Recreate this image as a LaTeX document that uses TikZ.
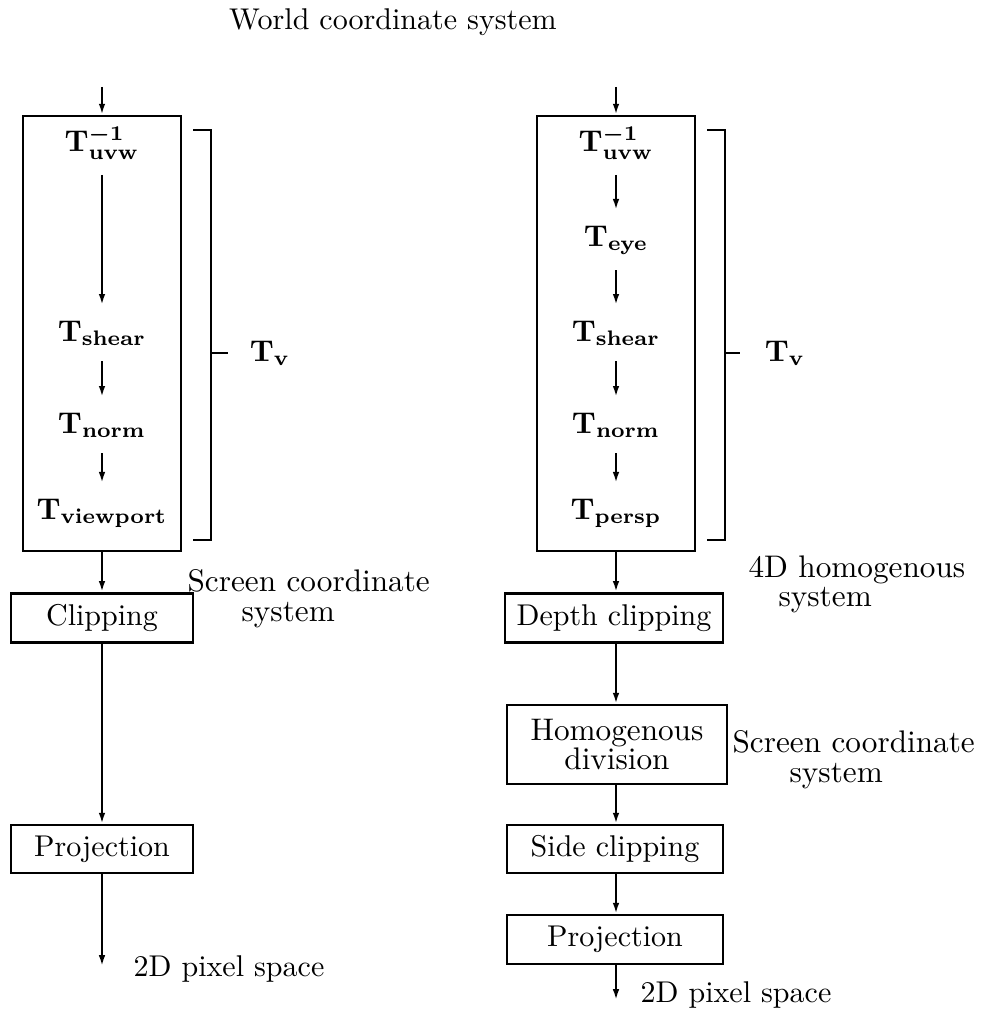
\documentclass[tikz,border=0pt]{standalone}
\usepackage{amsmath}
\usetikzlibrary{arrows.meta}

\begin{document}
\begin{tikzpicture}[
    x=0.333pt, y=-0.333pt, % one unit = one pixel of the layout, y pointing down
    >={Latex[length=3.6pt, width=2.2pt]}, % small narrow arrow tips
    flow/.style={->, line width=0.7pt}, % Style for the pipeline arrows
    stage/.style={draw, line width=0.9pt, inner sep=0pt, minimum height=16.5pt}, % boxed stages
    frame/.style={draw, line width=0.9pt, minimum width=52.6pt, minimum height=144.9pt}, % big box
    xform/.style={inner sep=5pt}, % transformation labels inside the frame
    note/.style={align=left, inner sep=0pt, font=\fontsize{10.4}{9.8}\selectfont} % side notes
]

    % --- Bounding box (same proportions as the layout) ---
    \useasboundingbox (0,0) rectangle (981,1014);

    % --- Title ---
    \node[inner sep=0pt] (world) at (393,22) {World coordinate system};

    % --- Left pipeline ---
    \coordinate (inL) at (102,87);
    \node[frame] (frameL) at (102,333.5) {};
    \node[xform] (uvwL) at (102,143) {$\mathbf{T}^{\boldsymbol{-1}}_{\mathbf{uvw}}$};
    \node[xform] (shearL) at (102,333) {$\mathbf{T}_{\mathbf{shear}}$};
    \node[xform] (normL) at (102,425) {$\mathbf{T}_{\mathbf{norm}}$};
    \node[xform] (viewL) at (102,513) {$\mathbf{T}_{\mathbf{viewport}}$};
    \node[stage, minimum width=60.6pt] (clipL) at (102,618) {Clipping};
    \node[stage, minimum width=60.6pt, minimum height=16pt] (projL) at (102,849) {Projection};
    \coordinate (outL) at (102,966);

    \draw[flow] (inL) -- (frameL.north);
    \draw[flow] (uvwL) -- (shearL);
    \draw[flow] (shearL) -- (normL);
    \draw[flow] (normL) -- (viewL);
    \draw[flow] (frameL.south) -- (clipL.north);
    \draw[flow] (clipL.south) -- (projL.north);
    \draw[flow] (projL.south) -- (outL);

    % bracket and T_v
    \draw[line width=0.9pt] (193,130) -| (211,540) -- (193,540);
    \draw[line width=0.9pt] (211,353) -- (228,353);
    \node (tvL) at (270,353) {$\mathbf{T}_{\mathbf{v}}$};

    \node[note, anchor=north west] (screenL) at (187,569) {Screen coordinate\\\hspace*{18pt}system};
    \node[inner sep=0pt, anchor=west] (pixL) at (133,969) {2D pixel space};

    % --- Right pipeline ---
    \coordinate (inR) at (616,87);
    \node[frame] (frameR) at (616,333.5) {};
    \node[xform] (uvwR) at (616,143) {$\mathbf{T}^{\boldsymbol{-1}}_{\mathbf{uvw}}$};
    \node[xform] (eyeR) at (616,240) {$\mathbf{T}_{\mathbf{eye}}$};
    \node[xform] (shearR) at (616,333) {$\mathbf{T}_{\mathbf{shear}}$};
    \node[xform] (normR) at (616,425) {$\mathbf{T}_{\mathbf{norm}}$};
    \node[xform] (perspR) at (616,513) {$\mathbf{T}_{\mathbf{persp}}$};
    \node[stage, minimum width=72.6pt] (depthR) at (614,618) {Depth clipping};
    \node[stage, minimum width=73.3pt, minimum height=26.3pt, align=center,
          font=\fontsize{10.4}{9.8}\selectfont] (homR) at (617,744.5) {Homogenous\\division};
    \node[stage, minimum width=72pt, minimum height=16pt] (sideR) at (615,849) {Side clipping};
    \node[stage, minimum width=72pt, minimum height=16.3pt] (projR) at (615,939.5) {Projection};
    \coordinate (outR) at (616,1000);

    \draw[flow] (inR) -- (frameR.north);
    \draw[flow] (uvwR) -- (eyeR);
    \draw[flow] (eyeR) -- (shearR);
    \draw[flow] (shearR) -- (normR);
    \draw[flow] (normR) -- (perspR);
    \draw[flow] (frameR.south) -- (depthR.north -| frameR.south);
    \draw[flow] (depthR.south -| frameR.south) -- (homR.north -| frameR.south);
    \draw[flow] (homR.south -| frameR.south) -- (sideR.north -| frameR.south);
    \draw[flow] (sideR.south -| frameR.south) -- (projR.north -| frameR.south);
    \draw[flow] (projR.south -| frameR.south) -- (outR);

    % bracket and T_v
    \draw[line width=0.9pt] (707,130) -| (725,540) -- (707,540);
    \draw[line width=0.9pt] (725,353) -- (740,353);
    \node (tvR) at (785,353) {$\mathbf{T}_{\mathbf{v}}$};

    \node[note, anchor=north west] (homNote) at (748,555) {4D homogenous\\\hspace*{10pt}system};
    \node[note, anchor=north west] (screenR) at (732,730) {Screen coordinate\\\hspace*{19pt}system};
    \node[inner sep=0pt, anchor=west] (pixR) at (640,995) {2D pixel space};

\end{tikzpicture}
\end{document}
